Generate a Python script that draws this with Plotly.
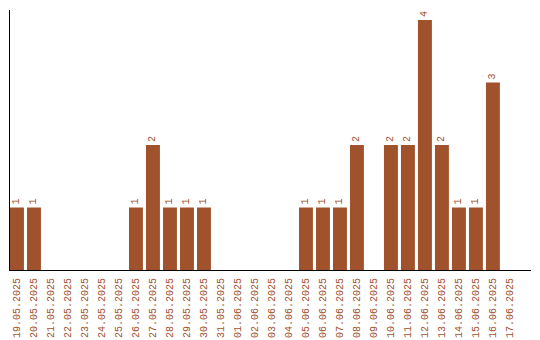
import plotly.graph_objects as go

dates = ["19.05.2025", "20.05.2025", "21.05.2025", "22.05.2025", "23.05.2025",
         "24.05.2025", "25.05.2025", "26.05.2025", "27.05.2025", "28.05.2025",
         "29.05.2025", "30.05.2025", "31.05.2025", "01.06.2025", "02.06.2025",
         "03.06.2025", "04.06.2025", "05.06.2025", "06.06.2025", "07.06.2025",
         "08.06.2025", "09.06.2025", "10.06.2025", "11.06.2025", "12.06.2025",
         "13.06.2025", "14.06.2025", "15.06.2025", "16.06.2025", "17.06.2025"]
counts = [1, 1, 0, 0, 0, 0, 0, 1, 2, 1, 1, 1, 0, 0, 0, 0, 0, 1, 1, 1,
          2, 0, 2, 2, 4, 2, 1, 1, 3, 0]

color = "#A0522D"
font_family = "Liberation Mono"

fig = go.Figure(go.Bar(
    x=list(range(len(dates))),
    y=counts,
    marker=dict(color=color, line=dict(width=0)),
    text=[str(c) if c else "" for c in counts],
    textposition="outside",
    textangle=-90,
    textfont=dict(family=font_family, size=10, color=color),
    cliponaxis=False,
))

fig.update_layout(
    width=540, height=340,
    margin=dict(l=10, r=9, t=10, b=70, autoexpand=False),
    paper_bgcolor="white", plot_bgcolor="white",
    bargap=0.18,
    showlegend=False,
    font=dict(family=font_family, size=10, color=color),
)
fig.update_xaxes(
    tickmode="array", tickvals=list(range(len(dates))), ticktext=dates,
    tickangle=-90, range=[-0.41, 30.24], automargin=False,
    ticklabelstandoff=3,
    showline=True, linecolor="black", linewidth=1,
    showgrid=False, zeroline=False, ticks="",
    tickfont=dict(family=font_family, size=10, color=color),
)
fig.update_yaxes(
    range=[0, 4.16], showline=True, linecolor="black", linewidth=1,
    showgrid=False, zeroline=False, showticklabels=False, ticks="",
    automargin=False,
)

fig.write_html("out.html")
